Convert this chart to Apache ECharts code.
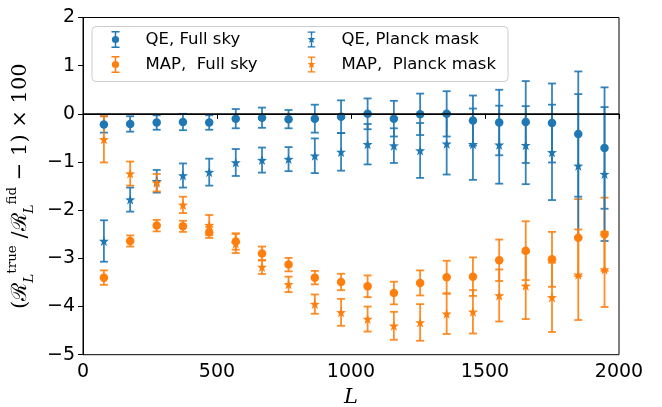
<!DOCTYPE html>
<html>
<head>
<meta charset="utf-8">
<script src="https://cdn.jsdelivr.net/npm/echarts@6/dist/echarts.min.js"></script>
<style>html,body{margin:0;padding:0;background:#fff}#c{width:662px;height:407px}</style>
</head>
<body>
<div id="c"></div>
<script>
// Multipole bin centres
const L = [78, 176, 275, 373, 471, 570, 668, 767, 865, 963, 1062, 1160, 1258, 1357, 1455, 1553, 1652, 1750, 1848, 1946];

const qeFull     = [-0.22, -0.21, -0.18, -0.17, -0.18, -0.10, -0.08, -0.11, -0.10, -0.06, 0.00, -0.10, -0.01, 0.00, -0.14, -0.18, -0.17, -0.19, -0.42, -0.71];
const qeFullErr  = [0.17, 0.16, 0.15, 0.17, 0.15, 0.20, 0.21, 0.19, 0.29, 0.34, 0.32, 0.37, 0.43, 0.47, 0.52, 0.68, 0.85, 0.82, 1.30, 1.26];

const qePlanck    = [-2.64, -1.78, -1.40, -1.28, -1.21, -1.01, -0.96, -0.94, -0.87, -0.79, -0.63, -0.66, -0.76, -0.62, -0.63, -0.64, -0.65, -0.80, -1.08, -1.25];
const qePlanckErr = [0.43, 0.25, 0.235, 0.25, 0.28, 0.28, 0.26, 0.25, 0.36, 0.39, 0.42, 0.36, 0.57, 0.64, 0.74, 0.81, 0.81, 0.99, 1.49, 1.39];

const mapFull    = [-3.40, -2.64, -2.32, -2.335, -2.46, -2.65, -2.90, -3.13, -3.40, -3.49, -3.58, -3.72, -3.51, -3.39, -3.38, -3.04, -2.84, -3.02, -2.57, -2.50];
const mapFullErr = [0.15, 0.115, 0.12, 0.115, 0.115, 0.17, 0.145, 0.14, 0.14, 0.17, 0.225, 0.235, 0.26, 0.34, 0.40, 0.43, 0.61, 0.57, 0.80, 0.76];

const mapPlanck    = [-0.53, -1.24, -1.43, -1.89, -2.31, -2.69, -3.18, -3.54, -3.95, -4.12, -4.26, -4.40, -4.33, -4.15, -4.11, -3.77, -3.57, -3.81, -3.34, -3.23];
const mapPlanckErr = [0.48, 0.25, 0.18, 0.17, 0.21, 0.20, 0.145, 0.16, 0.20, 0.28, 0.26, 0.29, 0.38, 0.42, 0.45, 0.54, 0.69, 0.72, 0.94, 0.78];

const xTicks = [0, 500, 1000, 1500, 2000];
const yTicks = [-5, -4, -3, -2, -1, 0, 1, 2];

const names = ['QE, Full sky', 'MAP,  Full sky', 'QE, Planck mask', 'MAP,  Planck mask'];
const BLUE = '#1f77b4', ORANGE = '#ff7f0e';

const STAR = 'path://M0,-10 L2.35,-3.24 L9.51,-3.09 L3.8,1.24 L5.88,8.09 L0,4 L-5.88,8.09 L-3.8,1.24 L-9.51,-3.09 L-2.35,-3.24 Z';
const ICON_CIRCLE = 'path://M0,0 H8 V1.4 H0 Z M3.25,1.4 H4.75 V5.2 H3.25 Z M0.4,8.5 A3.6,3.6 0 1 1 7.6,8.5 A3.6,3.6 0 1 1 0.4,8.5 Z M3.25,11.8 H4.75 V15.6 H3.25 Z M0,15.6 H8 V17 H0 Z';
const ICON_STAR = 'path://M0,0 H8 V1.4 H0 Z M3.25,1.4 H4.75 V4.6 H3.25 Z M4,4.1 L5.05,7.05 L8.2,7.15 L5.7,9.05 L6.6,12.1 L4,10.3 L1.4,12.1 L2.3,9.05 L-0.2,7.15 L2.95,7.05 Z M3.25,10.6 H4.75 V15.6 H3.25 Z M0,15.6 H8 V17 H0 Z';

function rows(v, e) { return L.map((l, i) => [l, v[i], e[i]]); }

function errRender(params, api) {
  const x = api.value(0), y = api.value(1), e = api.value(2);
  const top = api.coord([x, y + e]);
  const bot = api.coord([x, y - e]);
  const hw = 4;
  const style = { stroke: api.visual('color'), lineWidth: 1.8, opacity: 0.9 };
  return { type: 'group', children: [
    { type: 'line', shape: { x1: top[0], y1: top[1], x2: bot[0], y2: bot[1] }, style: style },
    { type: 'line', shape: { x1: top[0] - hw, y1: top[1], x2: top[0] + hw, y2: top[1] }, style: style },
    { type: 'line', shape: { x1: bot[0] - hw, y1: bot[1], x2: bot[0] + hw, y2: bot[1] }, style: style }
  ]};
}

function errSeries(name, v, e, color) {
  return { type: 'custom', name: name + ' err', data: rows(v, e), renderItem: errRender,
    encode: { x: 0, y: 1 }, itemStyle: { color: color }, z: 2, silent: true };
}
function markSeries(name, v, e, color, symbol, size) {
  return { type: 'scatter', name: name, data: rows(v, e), encode: { x: 0, y: 1 },
    symbol: symbol, symbolSize: size, itemStyle: { color: color, opacity: 1 }, z: 3 };
}

const chart = echarts.init(document.getElementById('c'), null, { renderer: 'canvas' });
const legendText = { fontFamily: 'DejaVu Sans', fontSize: 16.5, color: '#000', padding: [0, 0, 0, 21] };
chart.setOption({
  animation: false,
  backgroundColor: '#fff',
  grid: { left: 83, right: 43, top: 17.5, bottom: 52.3, outerBoundsMode: 'none', containLabel: false,
    show: true, borderColor: '#000', borderWidth: 1, backgroundColor: 'transparent' },
  xAxis: {
    type: 'value', min: xTicks[0], max: xTicks[xTicks.length - 1], interval: 500,
    name: 'L', nameLocation: 'middle', nameGap: 31,
    nameTextStyle: { fontFamily: 'DejaVu Serif', fontStyle: 'italic', fontSize: 21, color: '#000' },
    axisLine: { lineStyle: { color: '#000', width: 1 } },
    axisTick: { length: 5, lineStyle: { color: '#000' } },
    axisLabel: { fontFamily: 'DejaVu Sans', fontSize: 19, color: '#000', margin: 8,
      formatter: v => String(v) },
    splitLine: { show: false }
  },
  yAxis: {
    type: 'value', min: yTicks[0], max: yTicks[yTicks.length - 1], interval: 1,
    name: '{a|(ℛ}{sub|L}{sup|true}{a| /ℛ}{sub|L}{sup|fid}{a| − 1) × 100}',
    nameLocation: 'middle', nameGap: 38, nameRotate: 90,
    nameTextStyle: {
      color: '#000',
      rich: {
        a: { fontFamily: 'DejaVu Serif', fontSize: 21, lineHeight: 31, color: '#000' },
        sup: { fontFamily: 'DejaVu Serif', fontSize: 13.5, lineHeight: 13, verticalAlign: 'top', color: '#000' },
        sub: { fontFamily: 'DejaVu Serif', fontStyle: 'italic', fontSize: 13.5, lineHeight: 13, verticalAlign: 'bottom', color: '#000' }
      }
    },
    axisLine: { show: true, lineStyle: { color: '#000', width: 1 } },
    axisTick: { show: true, length: 5, lineStyle: { color: '#000' } },
    axisLabel: { fontFamily: 'DejaVu Sans', fontSize: 19, color: '#000', margin: 8,
      formatter: v => String(v).replace('-', '\u2212') },
    splitLine: { show: false }
  },
  graphic: [{
    type: 'rect', left: 91.5, top: 26, z: 10,
    shape: { width: 416, height: 55, r: 4 },
    style: { fill: 'rgba(255,255,255,0.8)', stroke: '#cccccc', lineWidth: 1 }
  }],
  legend: [
    { orient: 'vertical', left: 111.5, top: 31, padding: 0, itemGap: 8, itemWidth: 8, itemHeight: 17, z: 20,
      textStyle: legendText, selectedMode: false,
      data: [{ name: names[0], icon: ICON_CIRCLE }, { name: names[1], icon: ICON_CIRCLE }] },
    { orient: 'vertical', left: 307.5, top: 31, padding: 0, itemGap: 8, itemWidth: 8, itemHeight: 17, z: 20,
      textStyle: legendText, selectedMode: false,
      data: [{ name: names[2], icon: ICON_STAR }, { name: names[3], icon: ICON_STAR }] }
  ],
  series: [
    { type: 'line', data: [], z: 1, silent: true,
      markLine: { silent: true, symbol: 'none', label: { show: false }, animation: false,
        lineStyle: { color: '#000', width: 1.5, type: 'solid' }, data: [{ yAxis: 0 }] } },
    errSeries(names[0], qeFull, qeFullErr, BLUE),
    errSeries(names[1], mapFull, mapFullErr, ORANGE),
    errSeries(names[2], qePlanck, qePlanckErr, BLUE),
    errSeries(names[3], mapPlanck, mapPlanckErr, ORANGE),
    markSeries(names[0], qeFull, qeFullErr, BLUE, 'circle', 8.5),
    markSeries(names[1], mapFull, mapFullErr, ORANGE, 'circle', 8.5),
    markSeries(names[2], qePlanck, qePlanckErr, BLUE, STAR, 10),
    markSeries(names[3], mapPlanck, mapPlanckErr, ORANGE, STAR, 10)
  ]
});
</script>
</body>
</html>
